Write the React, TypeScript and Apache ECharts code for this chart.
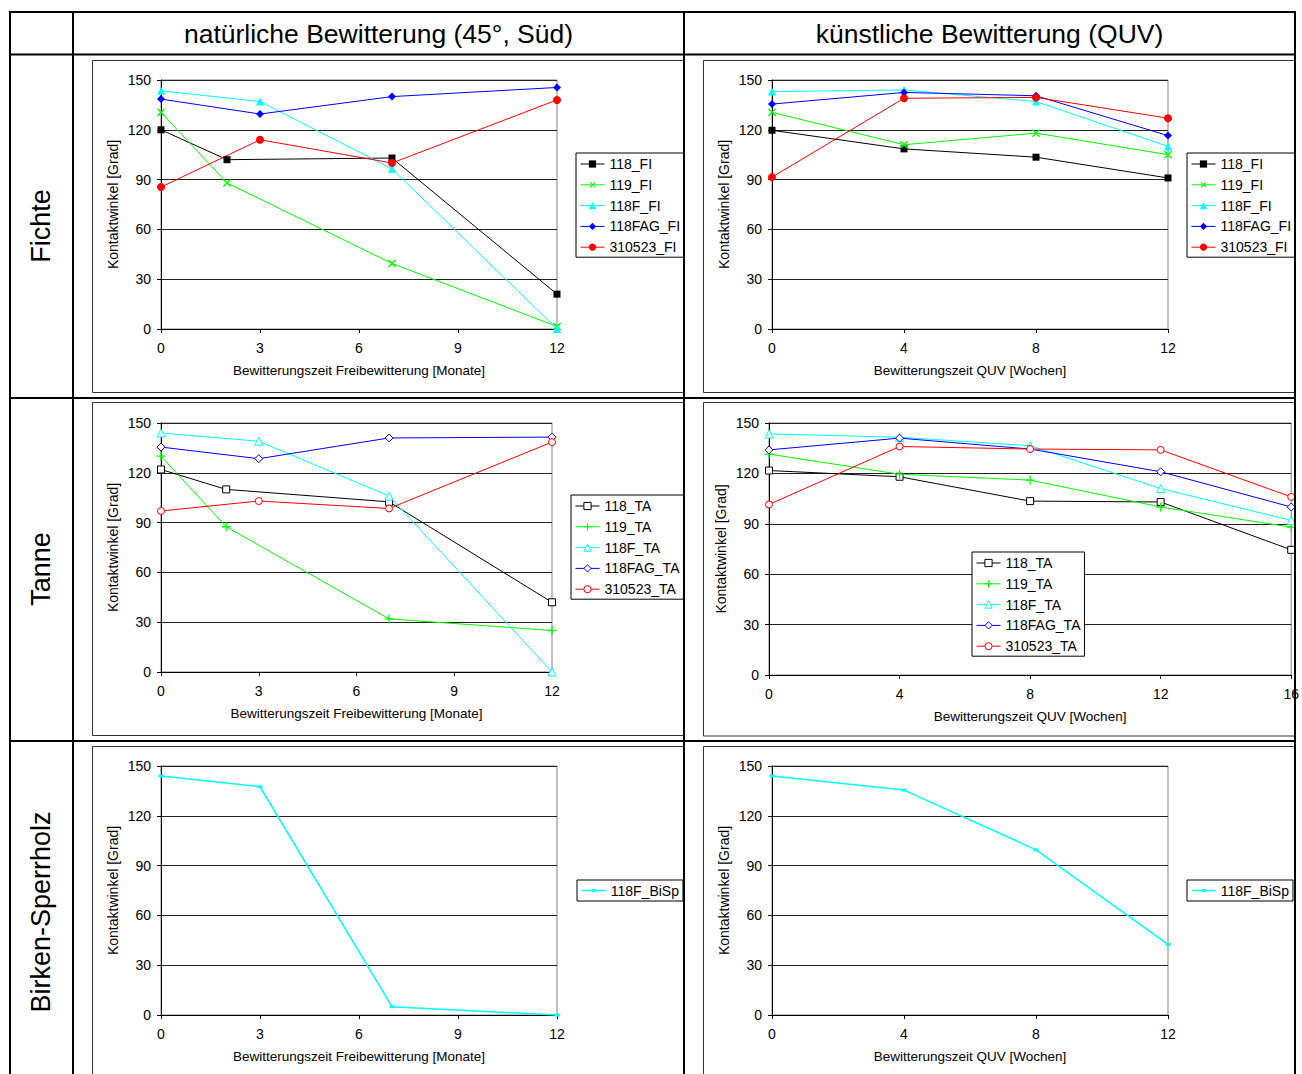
import React, { useEffect, useRef } from "react";
import * as echarts from "echarts";

const FONT = '"Liberation Sans", Arial, Helvetica, sans-serif';
const FS = 14;
const FS_XNAME = 13.5;

// ---------- texts ----------
const COLUMN_HEADERS = ["natürliche Bewitterung (45°, Süd)", "künstliche Bewitterung (QUV)"];
const ROW_HEADERS = ["Fichte", "Tanne", "Birken-Sperrholz"];
const Y_AXIS_TITLE = "Kontaktwinkel [Grad]";
const X_TITLE_NAT = "Bewitterungszeit Freibewitterung [Monate]";
const X_TITLE_QUV = "Bewitterungszeit QUV [Wochen]";

// ---------- series names ----------
const FI_NAMES = ["118_FI", "119_FI", "118F_FI", "118FAG_FI", "310523_FI"];
const TA_NAMES = ["118_TA", "119_TA", "118F_TA", "118FAG_TA", "310523_TA"];
const BISP_NAMES = ["118F_BiSp"];

// ---------- Fichte, natürliche Bewitterung (Monate) ----------
const FI_NAT_X_A = [0, 2, 7, 12];
const FI_NAT_X_B = [0, 3, 7, 12];
const FI_NAT_118 = [120, 102, 103, 21];
const FI_NAT_119 = [130.5, 88, 39.5, 1.5];
const FI_NAT_118F = [143.5, 137, 96.5, 0];
const FI_NAT_118FAG = [138.5, 129.5, 140, 145.5];
const FI_NAT_310523 = [85.5, 114, 100, 138];

// ---------- Fichte, QUV (Wochen) ----------
const FI_QUV_X = [0, 4, 8, 12];
const FI_QUV_118 = [119.7, 108.5, 103.5, 91];
const FI_QUV_119 = [130.5, 111, 118, 105];
const FI_QUV_118F = [143, 144, 137, 110];
const FI_QUV_118FAG = [135.5, 142.5, 140.5, 116.5];
const FI_QUV_310523 = [91.5, 139, 139.5, 127];

// ---------- Tanne, natürliche Bewitterung (Monate) ----------
const TA_NAT_X_A = [0, 2, 7, 12];
const TA_NAT_X_B = [0, 3, 7, 12];
const TA_NAT_118 = [122, 110, 102.5, 42];
const TA_NAT_119 = [130, 87.5, 32, 25];
const TA_NAT_118F = [144, 139, 106, 0];
const TA_NAT_118FAG = [135.5, 128.5, 141, 141.5];
const TA_NAT_310523 = [97, 103, 98.5, 138.5];

// ---------- Tanne, QUV (Wochen) ----------
const TA_QUV_X = [0, 4, 8, 12, 16];
const TA_QUV_118 = [121.7, 118, 103.5, 103, 74.5];
const TA_QUV_119 = [131.5, 119.5, 116, 100, 88];
const TA_QUV_118F = [143.5, 141.5, 136.5, 111, 92];
const TA_QUV_118FAG = [134, 141, 134.5, 121, 100];
const TA_QUV_310523 = [101.5, 136, 134.5, 134, 106];

// ---------- Birken-Sperrholz ----------
const BI_NAT_X = [0, 3, 7, 12];
const BI_NAT_118F = [144, 137.5, 5, 0];
const BI_QUV_X = [0, 4, 8, 12];
const BI_QUV_118F = [144, 135.5, 99.5, 42.5];

// ---------- axis ticks ----------
const Y_MAX = 150;
const Y_STEP = 30;
const NAT_X_MAX = 12;
const NAT_X_STEP = 3;
const QUV_X_MAX = 12;
const QUV_X_STEP = 4;
const TA_QUV_X_MAX = 16;

// ---------- styles ----------
const BLACK = "#000000";
const GREEN = "#00FF00";
const CYAN = "#00FFFF";
const BLUE = "#0000FF";
const RED = "#FF0000";

const PLUS = "path://M4.3,0H5.7V4.3H10V5.7H5.7V10H4.3V5.7H0V4.3H4.3Z";
const SQUARE = "path://M0,0H10V10H0Z";
const TRI = "path://M5,0L10,10H0Z";
const DIAM = "path://M5,0L10,5L5,10L0,5Z";
const CIRC = "path://M0,5A5,5,0,1,1,10,5A5,5,0,1,1,0,5Z";

type Sty = {
  color: string;
  symbol: string;
  size: number | number[];
  rotate?: number;
  fill: string;
  border: number;
  lw?: number;
};

const FI_STYLES: Sty[] = [
  { color: BLACK, symbol: "rect", size: 7, fill: BLACK, border: 0 },
  { color: GREEN, symbol: PLUS, size: 10, rotate: 45, fill: GREEN, border: 0 },
  { color: CYAN, symbol: "triangle", size: 8, fill: CYAN, border: 0 },
  { color: BLUE, symbol: "diamond", size: 8, fill: BLUE, border: 0 },
  { color: RED, symbol: "circle", size: 8, fill: RED, border: 0 },
];
const TA_STYLES: Sty[] = [
  { color: BLACK, symbol: SQUARE, size: 7, fill: "#fff", border: 1 },
  { color: GREEN, symbol: PLUS, size: 9, fill: GREEN, border: 0 },
  { color: CYAN, symbol: TRI, size: 8, fill: "#fff", border: 1 },
  { color: BLUE, symbol: DIAM, size: 8, fill: "#fff", border: 1 },
  { color: RED, symbol: CIRC, size: 7, fill: "#fff", border: 1 },
];
const BI_STYLES: Sty[] = [
  { color: CYAN, symbol: "rect", size: [5, 3], fill: CYAN, border: 0, lw: 1.5 },
];

const GRIDS = [
  { left: 161, top: 80, width: 396, height: 249 },
  { left: 772, top: 80, width: 396, height: 249 },
  { left: 161, top: 423, width: 391, height: 249 },
  { left: 769, top: 423, width: 523, height: 252 },
  { left: 161, top: 766, width: 396, height: 249 },
  { left: 772, top: 766, width: 396, height: 249 },
];

function makeSeries(name: string, xs: number[], ys: number[], s: Sty, gi: number) {
  return {
    type: "line",
    name,
    xAxisIndex: gi,
    yAxisIndex: gi,
    data: xs.map((x, i) => [x, ys[i]]),
    symbol: s.symbol,
    symbolSize: s.size,
    symbolRotate: s.rotate || 0,
    showSymbol: true,
    showAllSymbol: true,
    clip: false,
    silent: true,
    itemStyle: { color: s.fill, borderColor: s.color, borderWidth: s.border },
    lineStyle: { color: s.color, width: s.lw || 1 },
    emphasis: { disabled: true },
  };
}

function legendItem(name: string, s: Sty) {
  return {
    name,
    itemStyle: { color: s.fill, borderColor: s.color, borderWidth: s.border },
    lineStyle: { color: s.color, width: s.lw || 1 },
  };
}

function makeLegend(names: string[], styles: Sty[], left: number, top: number, single = false) {
  return {
    show: true,
    orient: "vertical",
    left,
    top,
    itemWidth: 24,
    itemHeight: single ? 4 : 9,
    itemGap: 6.8,
    padding: single ? [3.5, 4, 3.5, 4] : [4, 4, 3, 4],
    backgroundColor: "#fff",
    borderColor: "#000",
    borderWidth: 1,
    borderRadius: 0,
    selectedMode: false,
    textStyle: { fontSize: FS, color: "#000", fontFamily: FONT, lineHeight: 14 },
    data: names.map((n, i) => legendItem(n, styles[i])),
  };
}

function xAxisCfg(gi: number, max: number, interval: number, name: string) {
  return {
    type: "value",
    gridIndex: gi,
    min: 0,
    max,
    interval,
    name,
    nameLocation: "middle",
    nameGap: 34,
    nameTextStyle: { fontSize: FS_XNAME, color: "#000", fontFamily: FONT },
    axisLine: { show: true, onZero: false, lineStyle: { color: "#000", width: 1 } },
    axisTick: { show: true, inside: false, length: 4, lineStyle: { color: "#000" } },
    axisLabel: { fontSize: FS, color: "#000", margin: 12, fontFamily: FONT, showMaxLabel: true, showMinLabel: true },
    splitLine: { show: false },
  };
}

function yAxisCfg(gi: number) {
  return {
    type: "value",
    gridIndex: gi,
    min: 0,
    max: Y_MAX,
    interval: Y_STEP,
    name: Y_AXIS_TITLE,
    nameLocation: "middle",
    nameGap: 41,
    nameTextStyle: { fontSize: FS, color: "#000", fontFamily: FONT },
    axisLine: { show: true, onZero: false, lineStyle: { color: "#000", width: 1 } },
    axisTick: { show: true, inside: false, length: 4, lineStyle: { color: "#000" } },
    axisLabel: { fontSize: FS, color: "#000", margin: 10, fontFamily: FONT },
    splitLine: { show: true, lineStyle: { color: "#222", width: 1 } },
  };
}

function hLine(x1: number, x2: number, y: number, w = 2, color = "#000", z = 100) {
  return { type: "line", z, silent: true, shape: { x1, y1: y, x2, y2: y }, style: { stroke: color, lineWidth: w } };
}
function vLine(x: number, y1: number, y2: number, w = 2, color = "#000", z = 100) {
  return { type: "line", z, silent: true, shape: { x1: x, y1, x2: x, y2 }, style: { stroke: color, lineWidth: w } };
}
function panelRect(x: number, y: number, w: number, h: number) {
  return {
    type: "rect",
    z: 0,
    silent: true,
    shape: { x, y, width: w, height: h },
    style: { fill: "none", stroke: "#333", lineWidth: 1 },
  };
}
function label(text: string, x: number, y: number, rot = 0, size = 27) {
  return {
    type: "text",
    z: 100,
    silent: true,
    x,
    y,
    rotation: rot,
    style: {
      text,
      x: 0,
      y: 0,
      font: `${size}px ${FONT}`,
      fill: "#000",
      align: "center",
      verticalAlign: "middle",
      textAlign: "center",
      textVerticalAlign: "middle",
    },
  };
}

export default function App() {
  const ref = useRef<HTMLDivElement>(null);
  useEffect(() => {
    if (!ref.current) return;
    const chart = echarts.init(ref.current, null, { renderer: "svg" });

    const series: any[] = [];
    const fiNatXs = [FI_NAT_X_A, FI_NAT_X_A, FI_NAT_X_B, FI_NAT_X_B, FI_NAT_X_B];
    const fiNatYs = [FI_NAT_118, FI_NAT_119, FI_NAT_118F, FI_NAT_118FAG, FI_NAT_310523];
    FI_NAMES.forEach((n, i) => series.push(makeSeries(n, fiNatXs[i], fiNatYs[i], FI_STYLES[i], 0)));
    const fiQuvYs = [FI_QUV_118, FI_QUV_119, FI_QUV_118F, FI_QUV_118FAG, FI_QUV_310523];
    FI_NAMES.forEach((n, i) => series.push(makeSeries(n, FI_QUV_X, fiQuvYs[i], FI_STYLES[i], 1)));
    const taNatXs = [TA_NAT_X_A, TA_NAT_X_A, TA_NAT_X_B, TA_NAT_X_B, TA_NAT_X_B];
    const taNatYs = [TA_NAT_118, TA_NAT_119, TA_NAT_118F, TA_NAT_118FAG, TA_NAT_310523];
    TA_NAMES.forEach((n, i) => series.push(makeSeries(n, taNatXs[i], taNatYs[i], TA_STYLES[i], 2)));
    const taQuvYs = [TA_QUV_118, TA_QUV_119, TA_QUV_118F, TA_QUV_118FAG, TA_QUV_310523];
    TA_NAMES.forEach((n, i) => series.push(makeSeries(n, TA_QUV_X, taQuvYs[i], TA_STYLES[i], 3)));
    series.push(makeSeries(BISP_NAMES[0], BI_NAT_X, BI_NAT_118F, BI_STYLES[0], 4));
    series.push(makeSeries(BISP_NAMES[0], BI_QUV_X, BI_QUV_118F, BI_STYLES[0], 5));

    const graphics: any[] = [
      panelRect(92.5, 60.5, 592, 332),
      panelRect(703.5, 60.5, 592, 332),
      panelRect(92.5, 402.5, 592, 333),
      panelRect(703.5, 402.5, 592, 333.5),
      panelRect(92.5, 746.5, 592, 400),
      panelRect(703.5, 746.5, 592, 400),
      hLine(9, 1296, 12),
      hLine(9, 1296, 54.5),
      hLine(9, 1296, 398),
      hLine(9, 1296, 741),
      vLine(10, 11, 1080),
      vLine(73, 11, 1080),
      vLine(684, 11, 1080),
      vLine(1295, 11, 1080),
      label(COLUMN_HEADERS[0], 378.5, 34, 0, 26.5),
      label(COLUMN_HEADERS[1], 989.5, 34, 0, 26.5),
      label(ROW_HEADERS[0], 41, 226, Math.PI / 2),
      label(ROW_HEADERS[1], 41, 569, Math.PI / 2),
      label(ROW_HEADERS[2], 41, 912, Math.PI / 2),
    ];

    const option: any = {
      animation: false,
      backgroundColor: "#fff",
      textStyle: { fontFamily: FONT },
      grid: GRIDS.map((g) => ({
        ...g,
        show: true,
        borderColor: "#808080",
        borderWidth: 1,
        backgroundColor: "transparent",
        containLabel: false,
      })),
      xAxis: [
        xAxisCfg(0, NAT_X_MAX, NAT_X_STEP, X_TITLE_NAT),
        xAxisCfg(1, QUV_X_MAX, QUV_X_STEP, X_TITLE_QUV),
        xAxisCfg(2, NAT_X_MAX, NAT_X_STEP, X_TITLE_NAT),
        xAxisCfg(3, TA_QUV_X_MAX, QUV_X_STEP, X_TITLE_QUV),
        xAxisCfg(4, NAT_X_MAX, NAT_X_STEP, X_TITLE_NAT),
        xAxisCfg(5, QUV_X_MAX, QUV_X_STEP, X_TITLE_QUV),
      ],
      yAxis: [0, 1, 2, 3, 4, 5].map((i) => yAxisCfg(i)),
      legend: [
        makeLegend(FI_NAMES, FI_STYLES, 576, 153),
        makeLegend(FI_NAMES, FI_STYLES, 1187, 153),
        makeLegend(TA_NAMES, TA_STYLES, 571, 495),
        makeLegend(TA_NAMES, TA_STYLES, 972, 552),
        makeLegend(BISP_NAMES, BI_STYLES, 577, 880, true),
        makeLegend(BISP_NAMES, BI_STYLES, 1187, 880, true),
      ],
      series,
      graphic: { elements: graphics },
    };
    chart.setOption(option);
    return () => chart.dispose();
  }, []);

  return (
    <div
      ref={ref}
      style={{ position: "absolute", left: 0, top: 0, width: 1302, height: 1074, background: "#fff" }}
    />
  );
}
